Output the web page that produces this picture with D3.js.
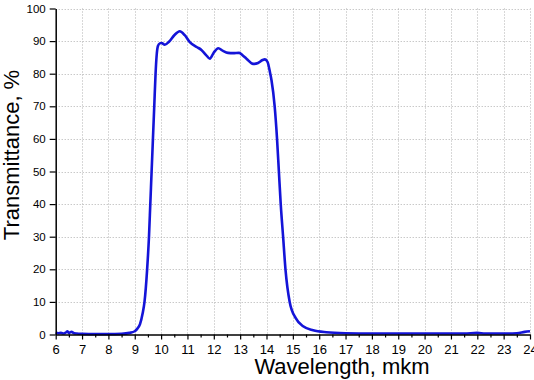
<!DOCTYPE html>
<html><head><meta charset="utf-8">
<script src="https://cdn.jsdelivr.net/npm/d3@7"></script>
<style>
html,body{margin:0;padding:0;background:#fff;}
svg{display:block;}
</style></head>
<body>
<svg id="chart" width="534" height="380"></svg>
<script>
const wavelength = [6.0,6.1,6.2,6.3,6.4,6.45,6.5,6.6,6.7,6.8,7.0,7.5,8.0,8.5,8.8,9.0,9.1,9.2,9.3,9.37,9.47,9.54,9.59,9.64,9.69,9.74,9.79,9.83,9.88,9.95,10.02,10.14,10.3,10.5,10.71,10.9,11.09,11.35,11.53,11.7,11.85,12.0,12.17,12.35,12.54,12.73,12.96,13.1,13.24,13.49,13.68,13.85,13.94,14.04,14.13,14.19,14.31,14.40,14.47,14.54,14.63,14.72,14.88,15.11,15.39,15.77,16.27,17,18,19,20,21,21.5,22,22.3,23,23.5,23.8,24];
const transmittance = [0.6,0.4,0.5,0.3,0.7,1.0,0.5,0.8,0.4,0.3,0.2,0.1,0.1,0.2,0.5,1.0,1.8,3.2,6.5,10,20,30,40,50,60,70,80,85.5,88.5,89.3,89.4,88.9,89.8,91.8,93.0,91.8,89.7,88.2,87.3,85.8,84.6,86.5,87.8,87.0,86.4,86.3,86.4,85.6,84.6,83.0,83.3,84.2,84.4,83.6,80.5,78,70,60,50,40,30,20,10,5,2.5,1.3,0.7,0.4,0.3,0.3,0.3,0.3,0.3,0.5,0.3,0.3,0.4,0.8,1.0];
const xTickValues = [6,7,8,9,10,11,12,13,14,15,16,17,18,19,20,21,22,23,24];
const yTickValues = [0,10,20,30,40,50,60,70,80,90,100];
const xTitle = "Wavelength, mkm";
const yTitle = "Transmittance, %";

(function(){
const svg = d3.select("#chart");
const pL = 55.7, pR = 530, pT = 8.5, pB = 334.5;
const x = d3.scaleLinear().domain([6,24]).range([pL,pR]);
const y = d3.scaleLinear().domain([0,100]).range([pB,pT]);

// grid
const grid = svg.append("g").attr("stroke","#b0b0b0").attr("stroke-width",1).attr("stroke-dasharray","1,2");
grid.selectAll("line.gx").data(xTickValues.slice(1)).join("line")
  .attr("x1",d=>Math.round(x(d))+0.5).attr("x2",d=>Math.round(x(d))+0.5)
  .attr("y1",pT).attr("y2",pB);
grid.selectAll("line.gy").data(yTickValues.slice(1)).join("line")
  .attr("y1",d=>Math.round(y(d))+0.5).attr("y2",d=>Math.round(y(d))+0.5)
  .attr("x1",pL).attr("x2",pR);

// line
const data = wavelength.map((w,i)=>({w, t: transmittance[i]}));
svg.append("path").datum(data)
  .attr("fill","none").attr("stroke","#1414d8").attr("stroke-width",2.6)
  .attr("stroke-linejoin","round")
  .attr("d", d3.line().x(d=>x(d.w)).y(d=>y(d.t)).curve(d3.curveMonotoneX));

// minor ticks x
const minor = xTickValues.slice(0,-1).map(d=>d+0.5);
svg.append("g").attr("transform",`translate(0,${pB})`)
  .call(d3.axisBottom(x).tickValues(minor).tickSize(3).tickFormat(""))
  .call(g=>g.select(".domain").remove())
  .call(g=>g.selectAll("line").attr("stroke","#000").attr("stroke-width",1.2));

// x axis
svg.append("g").attr("transform",`translate(0,${pB})`)
  .call(d3.axisBottom(x).tickValues(xTickValues).tickSize(5).tickPadding(5).tickSizeOuter(0).tickFormat(d3.format("d")))
  .call(g=>g.select(".domain").attr("stroke","#000").attr("stroke-width",1.5))
  .call(g=>g.selectAll(".tick line").attr("stroke","#000").attr("stroke-width",1.2))
  .call(g=>g.selectAll("text").attr("font-family","Liberation Sans, Arial, sans-serif").attr("font-size","13px").attr("fill","#000"));

// y axis
svg.append("g").attr("transform",`translate(${pL},0)`)
  .call(d3.axisLeft(y).tickValues(yTickValues).tickSize(6).tickPadding(4).tickSizeOuter(0).tickFormat(d3.format("d")))
  .call(g=>g.select(".domain").attr("stroke","#000").attr("stroke-width",1.5))
  .call(g=>g.selectAll(".tick line").attr("stroke","#000").attr("stroke-width",1.2))
  .call(g=>g.selectAll("text").attr("font-family","Liberation Sans, Arial, sans-serif").attr("font-size","11.5px").attr("fill","#000"));

// titles
svg.append("text").attr("x",342).attr("y",374).attr("text-anchor","middle")
  .attr("font-family","Liberation Sans, Arial, sans-serif").attr("font-size","22px").attr("fill","#000").text(xTitle);
svg.append("text").attr("transform","translate(19,155) rotate(-90)").attr("text-anchor","middle")
  .attr("font-family","Liberation Sans, Arial, sans-serif").attr("font-size","22px").attr("fill","#000").text(yTitle);
})();
</script>
</body></html>
